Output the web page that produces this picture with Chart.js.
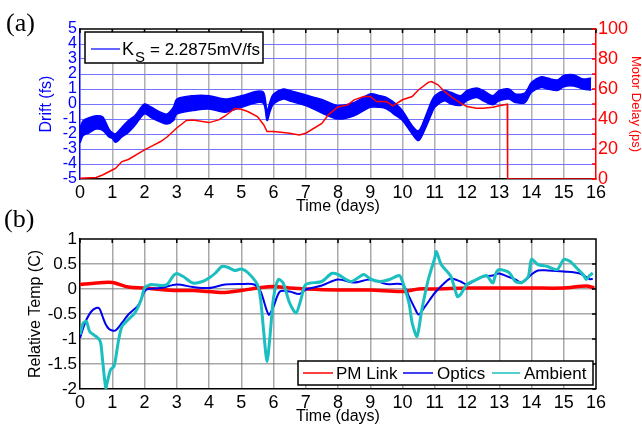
<!DOCTYPE html>
<html>
<head>
<meta charset="utf-8">
<script src="https://cdn.jsdelivr.net/npm/chart.js@4.4.1/dist/chart.umd.min.js"></script>
<style>
  html, body { margin: 0; padding: 0; background: #fff; }
  #wrap { position: relative; width: 642px; height: 425px; overflow: hidden; }
  canvas { position: absolute; left: 0; }
  #chartA { top: 0; }
  #chartB { top: 200px; }
</style>
</head>
<body>
<div id="wrap">
  <canvas id="chartA" width="642" height="215"></canvas>
  <canvas id="chartB" width="642" height="225"></canvas>
</div>
<script>
// ---- panel (a): drift band (upper / lower edge, fs) and motor delay (ps)
const driftT  = [0, 0.1, 0.3, 0.5, 0.7, 0.9, 1.0, 1.1, 1.3, 1.5, 1.7, 2.0, 2.2, 2.5, 2.7, 2.9, 3.0, 3.5, 4.0, 4.5,
                 5.0, 5.5, 5.7, 5.8, 5.9, 6.0, 6.3, 6.5, 7.0, 7.5, 8.0, 8.5, 9.0, 9.3, 9.5, 9.8, 10.0, 10.3, 10.5, 10.7,
                 10.9, 11.0, 11.3, 11.5, 11.8, 12.0, 12.3, 12.5, 12.8, 13.0, 13.3, 13.5, 13.8, 14.0, 14.3, 14.5, 14.8, 15.0, 15.3, 15.6, 15.85];
const driftHi = [-1.6, -1.1, -0.9, -0.78, -0.85, -1.67, -1.9, -2.0, -1.55, -1.1, -0.78, 0.0, -0.2, -0.55, -0.67, -0.2, 0.33, 0.55, 0.55, 0.33,
                 0.55, 0.85, 0.75, -0.45, 0.2, 0.67, 1.0, 0.9, 0.6, 0.3, -0.1, 0.1, 0.67, 0.55, 0.44, 0.0, -0.44, -1.44, -1.78, -0.9,
                 0.2, 0.55, 0.9, 0.78, 0.55, 0.9, 1.07, 0.9, 0.55, 0.9, 1.0, 0.67, 0.75, 1.44, 1.82, 1.73, 1.6, 1.9, 1.95, 1.67, 1.73];
const driftLo = [-2.6, -2.1, -1.9, -1.67, -1.75, -2.2, -2.3, -2.55, -2.2, -1.9, -1.44, -0.65, -0.9, -1.2, -1.33, -1.1, -0.67, -0.44, -0.33, -0.55,
                 -0.22, 0.1, 0.0, -1.1, -0.45, 0.0, 0.33, 0.2, -0.1, -0.6, -1.0, -0.78, -0.22, -0.22, -0.33, -0.78, -1.1, -2.0, -2.44, -1.67,
                 -0.67, -0.22, 0.22, 0.0, -0.1, 0.22, 0.44, 0.22, -0.05, 0.22, 0.33, 0.1, 0.1, 0.78, 1.1, 1.0, 0.9, 1.15, 1.2, 1.0, 0.93];

const motorT = [0, 0.5, 0.7, 1.0, 1.1, 1.3, 1.5, 2.0, 2.3, 2.5, 2.7, 3.0, 3.3, 3.5, 4.0, 4.3, 4.5, 4.8, 5.0, 5.2,
                5.5, 5.7, 5.8, 6.0, 6.3, 6.5, 6.8, 7.0, 7.5, 7.7, 8.0, 8.3, 8.5, 8.8, 9.0, 9.2, 9.5, 9.7, 10.0, 10.3,
                10.5, 10.8, 10.9, 11.1, 11.3, 11.5, 11.8, 12.0, 12.3, 12.5, 12.8, 13.0, 13.25, 13.26, 16];
const motor  = [0.5, 1, 2.7, 6, 7, 11.6, 13, 19.4, 22.7, 25, 28, 34, 39, 39.4, 37.6, 39.4, 42, 47, 46.5, 45,
                41.6, 36, 31.6, 31.6, 31, 30.5, 29.4, 30.5, 37, 42.8, 48, 49.4, 52.8, 55, 55, 51.6, 51.6, 48.8, 52.8, 55,
                59.5, 64.4, 65, 62.8, 58.4, 55, 50.6, 48.3, 47.2, 47.2, 47.9, 48.8, 49.9, 0, 0];

// ---- panel (b): relative temperatures (C)
const pmT = [0, 0.5, 1.0, 1.5, 2.0, 2.5, 3.0, 3.5, 4.0, 4.5, 5.0, 5.5, 6.0, 6.5, 7.0, 8.0, 9.0, 10.0, 10.5, 11.0, 12.0, 13.0, 14.0, 15.0, 15.7, 15.95];
const pmLink = [0.09, 0.12, 0.13, 0.04, 0.02, -0.01, -0.03, -0.03, -0.05, -0.07, -0.03, 0.02, 0.05, 0.02, 0.0, -0.02, -0.02, -0.05, 0.0, 0.0, 0.02, 0.02, 0.02, 0.02, 0.06, 0.02];

const optT = [0, 0.1, 0.2, 0.35, 0.5, 0.6, 0.7, 0.8, 0.9, 1.0, 1.1, 1.3, 1.5, 1.8, 2.0, 2.1, 2.5, 3.0, 3.5, 4.0,
              4.5, 5.0, 5.4, 5.6, 5.85, 6.0, 6.2, 6.5, 6.8, 7.0, 7.5, 8.0, 8.5, 9.0, 9.5, 10.0, 10.2, 10.4, 10.5, 10.7,
              11.0, 11.3, 11.5, 11.8, 12.0, 12.3, 12.5, 12.8, 13.0, 13.3, 13.5, 13.7, 14.0, 14.2, 14.5, 15.0, 15.5, 15.8, 15.9];
const optics = [-0.98, -0.78, -0.61, -0.45, -0.38, -0.39, -0.55, -0.71, -0.8, -0.83, -0.83, -0.68, -0.51, -0.33, -0.05, 0, 0.02, 0.09, 0.04, 0.02,
                0.09, 0.1, 0.09, -0.05, -0.51, -0.35, -0.05, -0.05, -0.1, -0.01, 0.07, 0.19, 0.13, 0.19, 0.1, 0.09, -0.15, -0.41, -0.51, -0.35,
                -0.08, 0.12, 0.21, 0.15, 0.09, 0.19, 0.25, 0.27, 0.31, 0.24, 0.19, 0.13, 0.29, 0.37, 0.37, 0.35, 0.31, 0.2, 0.2];

const ambT = [0, 0.1, 0.2, 0.3, 0.5, 0.6, 0.65, 0.72, 0.8, 0.85, 0.95, 1.05, 1.1, 1.2, 1.3, 1.5, 1.7, 1.9, 2.0, 2.2,
              2.5, 2.7, 2.9, 3.0, 3.2, 3.5, 3.8, 4.0, 4.2, 4.4, 4.6, 4.8, 5.0, 5.2, 5.5, 5.6, 5.7, 5.8, 5.9, 6.0,
              6.15, 6.3, 6.5, 6.7, 6.85, 7.0, 7.5, 7.8, 8.0, 8.4, 8.8, 9.0, 9.3, 9.6, 9.9, 10.0, 10.2, 10.3, 10.45, 10.6,
              10.8, 11.0, 11.05, 11.2, 11.5, 11.7, 11.8, 12.0, 12.3, 12.6, 12.8, 12.9, 13.0, 13.3, 13.5, 13.7, 13.9, 14.0, 14.2, 14.5,
              14.8, 15.0, 15.2, 15.4, 15.6, 15.7, 15.8, 15.9];
const ambient = [-0.91, -0.68, -0.65, -0.85, -0.95, -1.01, -1.11, -1.55, -1.98, -1.85, -1.61, -1.55, -1.41, -1.01, -0.75, -0.61, -0.48, -0.21, 0.02, 0.09,
                 0.07, 0.09, 0.27, 0.31, 0.25, 0.12, 0.15, 0.22, 0.32, 0.45, 0.43, 0.37, 0.4, 0.33, 0.09, -0.21, -0.88, -1.45, -0.88, -0.18,
                 0.19, 0.12, -0.28, -0.48, -0.21, 0.09, 0.15, 0.31, 0.29, 0.15, 0.29, 0.2, 0.15, 0.19, 0.27, 0.15, -0.28, -0.68, -0.95, -0.41,
                 0.19, 0.62, 0.75, 0.49, 0.25, -0.15, -0.11, 0.09, 0.19, 0.27, 0.12, 0.32, 0.39, 0.33, 0.15, 0.13, 0.25, 0.59, 0.49, 0.45,
                 0.39, 0.59, 0.55, 0.42, 0.29, 0.19, 0.27, 0.32];

const xTicks = { min: 0, max: 16, step: 1 };
const legendB = ['PM Link', 'Optics', 'Ambient'];

const pts = (xs, ys) => xs.map((x, i) => ({ x: x, y: ys[i] }));
const SANS = 'Arial, "Liberation Sans", sans-serif';
const SERIF = '"Times New Roman", "Liberation Serif", serif';
const edgeColor = (lo, hi, color) => (c) => (c.tick && (c.tick.value === lo || c.tick.value === hi)) ? 'rgba(0,0,0,0)' : color;

Chart.defaults.font.family = SANS;

// frame, inward tick marks, legend box and panel letter for panel (a)
const decorA = {
    id: 'decorA',
    afterDraw(chart) {
        const { ctx, chartArea: a, scales } = chart;
        ctx.save();
        ctx.lineWidth = 1.5;
        ctx.strokeStyle = '#000';
        ctx.beginPath();
        ctx.moveTo(a.left, a.top);
        ctx.lineTo(a.right, a.top);
        scales.x.ticks.forEach(t => {
            const px = scales.x.getPixelForValue(t.value);
            ctx.moveTo(px, a.top);
            ctx.lineTo(px, a.top + 4);
        });
        ctx.stroke();

        ctx.strokeStyle = '#f00';
        ctx.beginPath();
        scales.y2.ticks.forEach(t => {
            const py = scales.y2.getPixelForValue(t.value);
            ctx.moveTo(a.right, py);
            ctx.lineTo(a.right - 4, py);
        });
        ctx.stroke();

        // legend
        ctx.fillStyle = '#fff';
        ctx.fillRect(85, 32, 178, 31);
        ctx.strokeStyle = '#000';
        ctx.strokeRect(85, 32, 178, 31);
        ctx.strokeStyle = '#0000ff';
        ctx.lineWidth = 1.2;
        ctx.beginPath();
        ctx.moveTo(91, 49);
        ctx.lineTo(120, 49);
        ctx.stroke();
        ctx.fillStyle = '#000';
        ctx.textBaseline = 'alphabetic';
        ctx.font = '18px ' + SANS;
        ctx.fillText('K', 122, 55);
        ctx.font = '15px ' + SANS;
        ctx.fillText('S', 135, 61.5);
        ctx.font = '17px ' + SANS;
        ctx.fillText('= 2.2875mV/fs', 150, 55);

        ctx.font = '26px ' + SERIF;
        ctx.fillText('(a)', 6, 31);
        ctx.restore();
    }
};

const decorB = {
    id: 'decorB',
    afterDraw(chart) {
        const { ctx, chartArea: a, scales } = chart;
        ctx.save();
        ctx.lineWidth = 1.5;
        ctx.strokeStyle = '#000';
        ctx.beginPath();
        ctx.moveTo(a.left, a.top);
        ctx.lineTo(a.right, a.top);
        ctx.lineTo(a.right, a.bottom);
        scales.x.ticks.forEach(t => {
            const px = scales.x.getPixelForValue(t.value);
            ctx.moveTo(px, a.top);
            ctx.lineTo(px, a.top + 4);
        });
        scales.y.ticks.forEach(t => {
            const py = scales.y.getPixelForValue(t.value);
            ctx.moveTo(a.right, py);
            ctx.lineTo(a.right - 4, py);
        });
        ctx.stroke();

        // legend
        ctx.fillStyle = '#fff';
        ctx.fillRect(298, 161, 295, 24);
        ctx.strokeRect(298, 161, 295, 24);
        const items = [
            { x1: 303, x2: 333, tx: 336, color: '#ff0000', w: 1.5 },
            { x1: 403, x2: 433, tx: 437, color: '#0000ee', w: 1.5 },
            { x1: 492, x2: 520, tx: 524, color: '#1bbfbf', w: 1.5 }
        ];
        ctx.font = '17px ' + SANS;
        ctx.textBaseline = 'alphabetic';
        items.forEach((it, i) => {
            ctx.strokeStyle = it.color;
            ctx.lineWidth = it.w;
            ctx.beginPath();
            ctx.moveTo(it.x1, 173);
            ctx.lineTo(it.x2, 173);
            ctx.stroke();
            ctx.fillStyle = '#000';
            ctx.fillText(legendB[i], it.tx, 179);
        });

        ctx.font = '26px ' + SERIF;
        ctx.fillText('(b)', 4, 27);
        ctx.restore();
    }
};

const xAxis = (gridColor) => ({
    type: 'linear',
    min: xTicks.min,
    max: xTicks.max,
    afterFit: s => { s.height = 36; },
    ticks: { stepSize: xTicks.step, autoSkip: false, maxRotation: 0, color: '#000', font: { size: 18 }, padding: 3 },
    grid: { drawTicks: false, lineWidth: 1.5, color: edgeColor(xTicks.min, xTicks.max, gridColor) },
    border: { color: '#000', width: 1.5 },
    title: { display: true, text: 'Time (days)', color: '#000', font: { size: 16, lineHeight: 1 }, padding: { top: 0, bottom: 0 } }
});

new Chart(document.getElementById('chartA'), {
    type: 'line',
    data: {
        datasets: [
            {
                label: 'Motor Delay',
                data: pts(motorT, motor),
                yAxisID: 'y2',
                borderColor: '#ff0000',
                borderWidth: 1.5,
                pointRadius: 0,
                tension: 0,
                order: 0
            },
            {
                label: 'Drift upper',
                data: pts(driftT, driftHi),
                yAxisID: 'y',
                borderColor: '#0000ff',
                borderWidth: 1.5,
                pointRadius: 0,
                tension: 0.3,
                fill: false,
                order: 1
            },
            {
                label: 'Drift lower',
                data: pts(driftT, driftLo),
                yAxisID: 'y',
                borderColor: '#0000ff',
                backgroundColor: '#0000ff',
                borderWidth: 1.5,
                pointRadius: 0,
                tension: 0.3,
                fill: '-1',
                order: 1
            }
        ]
    },
    options: {
        responsive: false,
        animation: false,
        devicePixelRatio: 1,
        layout: { padding: { top: 29, left: 0, right: 0, bottom: 0 } },
        plugins: { legend: { display: false }, tooltip: { enabled: false } },
        scales: {
            x: xAxis('rgba(110,110,110,0.55)'),
            y: {
                position: 'left',
                min: -5,
                max: 5,
                afterFit: s => { s.width = 80; },
                ticks: { stepSize: 1, autoSkip: false, color: '#0000ff', font: { size: 16 }, padding: 3 },
                grid: { drawTicks: false, lineWidth: 1, color: edgeColor(-5, 5, '#7474ff') },
                border: { color: '#0000ff', width: 1.5 },
                title: { display: true, text: 'Drift (fs)', color: '#0000ff', font: { size: 16, lineHeight: 1 }, padding: { top: 39, bottom: 0 } }
            },
            y2: {
                position: 'right',
                min: 0,
                max: 100,
                afterFit: s => { s.width = 46; },
                ticks: { stepSize: 10, autoSkip: false, color: '#ff0000', font: { size: 18 }, padding: 2,
                         callback: v => (v % 20 === 0 ? v : '') },
                grid: { drawOnChartArea: false, drawTicks: false },
                border: { color: '#ff0000', width: 1.5 },
                title: { display: true, text: 'Motor Delay (ps)', color: '#ff0000', font: { size: 13, lineHeight: 1 }, padding: { top: 0, bottom: 0 } }
            }
        }
    },
    plugins: [decorA]
});

new Chart(document.getElementById('chartB'), {
    type: 'line',
    data: {
        datasets: [
            {
                label: legendB[0],
                data: pts(pmT, pmLink),
                borderColor: '#ff0000',
                borderWidth: 3.5,
                pointRadius: 0,
                tension: 0.3,
                order: 3
            },
            {
                label: legendB[1],
                data: pts(optT, optics),
                borderColor: '#0000ee',
                borderWidth: 2,
                pointRadius: 0,
                tension: 0.3,
                order: 2
            },
            {
                label: legendB[2],
                data: pts(ambT, ambient),
                borderColor: '#1bbfbf',
                borderWidth: 3,
                pointRadius: 0,
                tension: 0.25,
                order: 1
            }
        ]
    },
    options: {
        responsive: false,
        animation: false,
        devicePixelRatio: 1,
        layout: { padding: { top: 39, left: 0, right: 46, bottom: 0 } },
        plugins: { legend: { display: false }, tooltip: { enabled: false } },
        scales: {
            x: xAxis('rgba(110,110,110,0.6)'),
            y: {
                min: -2,
                max: 1,
                afterFit: s => { s.width = 80; },
                ticks: { stepSize: 0.5, autoSkip: false, color: '#000', font: { size: 17 }, padding: 3,
                         callback: v => String(v) },
                grid: { drawTicks: false, lineWidth: 1.5, color: edgeColor(-2, 1, 'rgba(110,110,110,0.6)') },
                border: { color: '#000', width: 1.5 },
                title: { display: true, text: 'Relative Temp (C)', color: '#000', font: { size: 16, lineHeight: 1 }, padding: { top: 28, bottom: 0 } }
            }
        }
    },
    plugins: [decorB]
});
</script>
</body>
</html>
